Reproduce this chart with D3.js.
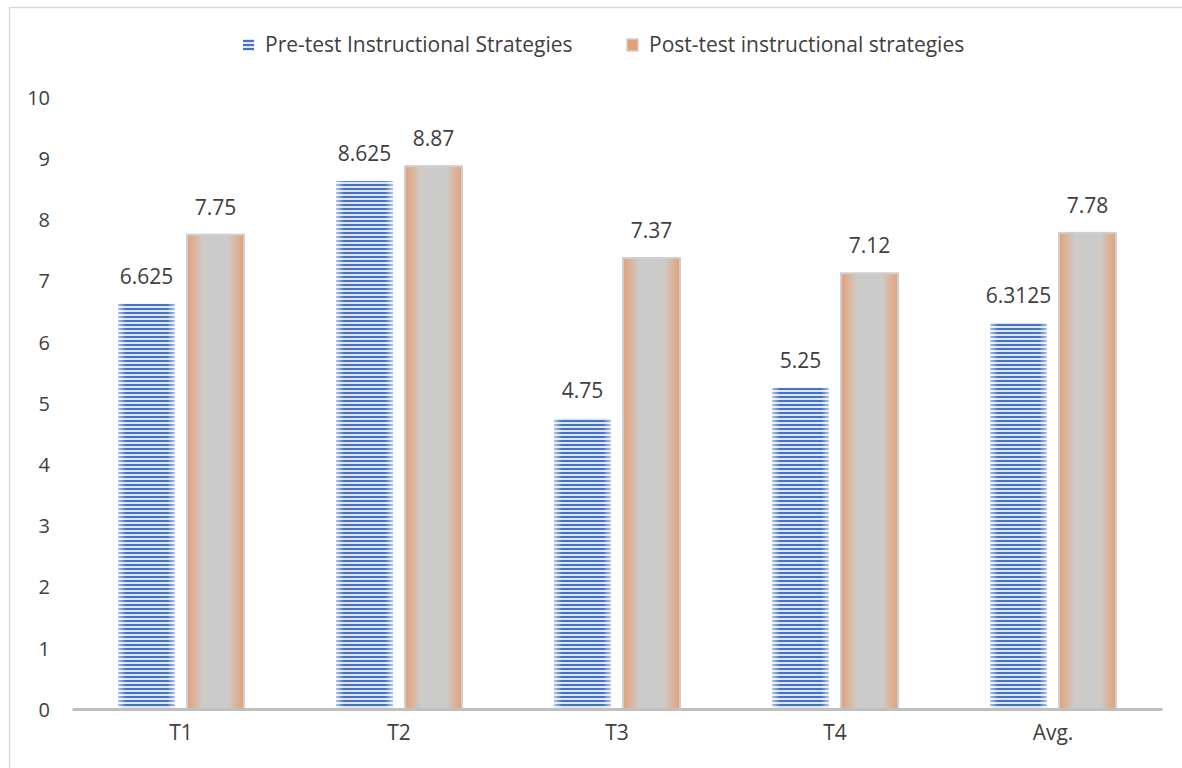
<!DOCTYPE html>
<html>
<head>
<meta charset="utf-8">
<script src="https://cdn.jsdelivr.net/npm/d3@7"></script>
<style>
  html, body { margin: 0; padding: 0; background: #fff; }
  svg { display: block; }
  text { font-family: "Open Sans", "Noto Sans", sans-serif; fill: #404040; }
</style>
</head>
<body>
<svg id="chart" width="1182" height="768"></svg>
<script>
// Chart data
const categories = ["T1", "T2", "T3", "T4", "Avg."];
const seriesNames = ["Pre-test Instructional Strategies", "Post-test instructional strategies"];
const preValues = [6.625, 8.625, 4.75, 5.25, 6.3125];
const postValues = [7.75, 8.87, 7.37, 7.12, 7.78];
const preLabels = ["6.625", "8.625", "4.75", "5.25", "6.3125"];
const postLabels = ["7.75", "8.87", "7.37", "7.12", "7.78"];
const yTicks = [0, 1, 2, 3, 4, 5, 6, 7, 8, 9, 10];

const svg = d3.select("#chart");
const W = 1182, H = 768;
const margin = { left: 72, top: 97 };
const plotRight = 1162;
const plotBottom = 709;

// Outer frame
svg.append("rect")
  .attr("x", 9.5).attr("y", 7.5)
  .attr("width", W + 10).attr("height", H + 10)
  .attr("fill", "none").attr("stroke", "#d9d9d9").attr("stroke-width", 1.5);

const defs = svg.append("defs");

// Horizontal stripe pattern for the pre-test bars
const pat = defs.append("pattern")
  .attr("id", "stripes")
  .attr("patternUnits", "userSpaceOnUse")
  .attr("width", 8).attr("height", 4);
pat.append("rect").attr("width", 8).attr("height", 4).attr("fill", "#dfe6f5");
pat.append("rect").attr("width", 8).attr("height", 2).attr("fill", "#4472c4");

// Soft white fade on the sides of the striped bars
const fade = defs.append("linearGradient").attr("id", "sideFade")
  .attr("x1", "0").attr("x2", "1").attr("y1", "0").attr("y2", "0");
[[0, 0.6], [0.14, 0.0], [0.86, 0.0], [1, 0.6]].forEach(([o, a]) =>
  fade.append("stop").attr("offset", o).attr("stop-color", "#ffffff").attr("stop-opacity", a));

// Grey centre fading to orange at the sides for the post-test bars
const og = defs.append("linearGradient").attr("id", "postFill")
  .attr("x1", "0").attr("x2", "1").attr("y1", "0").attr("y2", "0");
[[0, "#e59f76"], [0.28, "#cdcbc9"], [0.5, "#cbcbcb"], [0.72, "#cdcbc9"], [1, "#e59f76"]].forEach(([o, c]) =>
  og.append("stop").attr("offset", o).attr("stop-color", c));

// Scales
const x = d3.scaleBand().domain(categories).range([margin.left, plotRight]).paddingInner(0).paddingOuter(0);
const y = d3.scaleLinear().domain([0, 10]).range([plotBottom, margin.top]);

const barW = 57, gap = 12;

// Y axis labels
const yAxis = d3.axisLeft(y).tickValues(yTicks).tickSize(0).tickPadding(0).tickFormat(d3.format("d"));
const gy = svg.append("g").attr("transform", "translate(50,0)").call(yAxis);
gy.select(".domain").remove();
gy.selectAll("text").attr("font-size", 20).attr("fill", "#595959")
  .style("font-family", "'Open Sans', sans-serif").attr("dy", "0.36em");

// Bars
const groups = svg.append("g").selectAll("g").data(categories).join("g")
  .attr("transform", d => `translate(${x(d) + x.bandwidth() / 2},0)`);

groups.append("rect")
  .attr("x", -gap / 2 - barW).attr("width", barW)
  .attr("y", (d, i) => y(preValues[i]))
  .attr("height", (d, i) => y(0) - y(preValues[i]))
  .attr("fill", "url(#stripes)");
groups.append("rect")
  .attr("x", -gap / 2 - barW).attr("width", barW)
  .attr("y", (d, i) => y(preValues[i]))
  .attr("height", (d, i) => y(0) - y(preValues[i]))
  .attr("fill", "url(#sideFade)");

groups.append("rect")
  .attr("x", gap / 2).attr("width", barW)
  .attr("y", (d, i) => y(postValues[i]))
  .attr("height", (d, i) => y(0) - y(postValues[i]))
  .attr("fill", "url(#postFill)")
  .attr("stroke", "#cfcfcf").attr("stroke-width", 2);

// Value labels
groups.append("text")
  .attr("x", -gap / 2 - barW / 2)
  .attr("y", (d, i) => y(preValues[i]) - 20)
  .attr("text-anchor", "middle").attr("font-size", 21).attr("fill", "#404040")
  .text((d, i) => preLabels[i]);
groups.append("text")
  .attr("x", gap / 2 + barW / 2)
  .attr("y", (d, i) => y(postValues[i]) - 20)
  .attr("text-anchor", "middle").attr("font-size", 21).attr("fill", "#404040")
  .text((d, i) => postLabels[i]);

// X axis
const xAxis = d3.axisBottom(x).tickSize(0).tickPadding(16);
const gx = svg.append("g").attr("transform", `translate(0,${plotBottom})`).call(xAxis);
gx.select(".domain").attr("stroke", "#bfbfbf").attr("stroke-width", 3);
gx.selectAll("text").attr("font-size", 21).attr("fill", "#595959")
  .style("font-family", "'Open Sans', sans-serif");

// Legend
const legend = svg.append("g");
const legendItems = [
  { name: seriesNames[0], x: 243, fill: "url(#stripes)", stroke: null },
  { name: seriesNames[1], x: 627, fill: "#e59f76", stroke: "#cfcfcf" }
];
legendItems.forEach(it => {
  legend.append("rect").attr("x", it.x).attr("y", 39).attr("width", 11).attr("height", 12)
    .attr("fill", it.fill).attr("stroke", it.stroke).attr("stroke-width", it.stroke ? 1.5 : 0);
  legend.append("text").attr("x", it.x + 22).attr("y", 52)
    .attr("font-size", 21).attr("fill", "#595959").text(it.name);
});
</script>
</body>
</html>
